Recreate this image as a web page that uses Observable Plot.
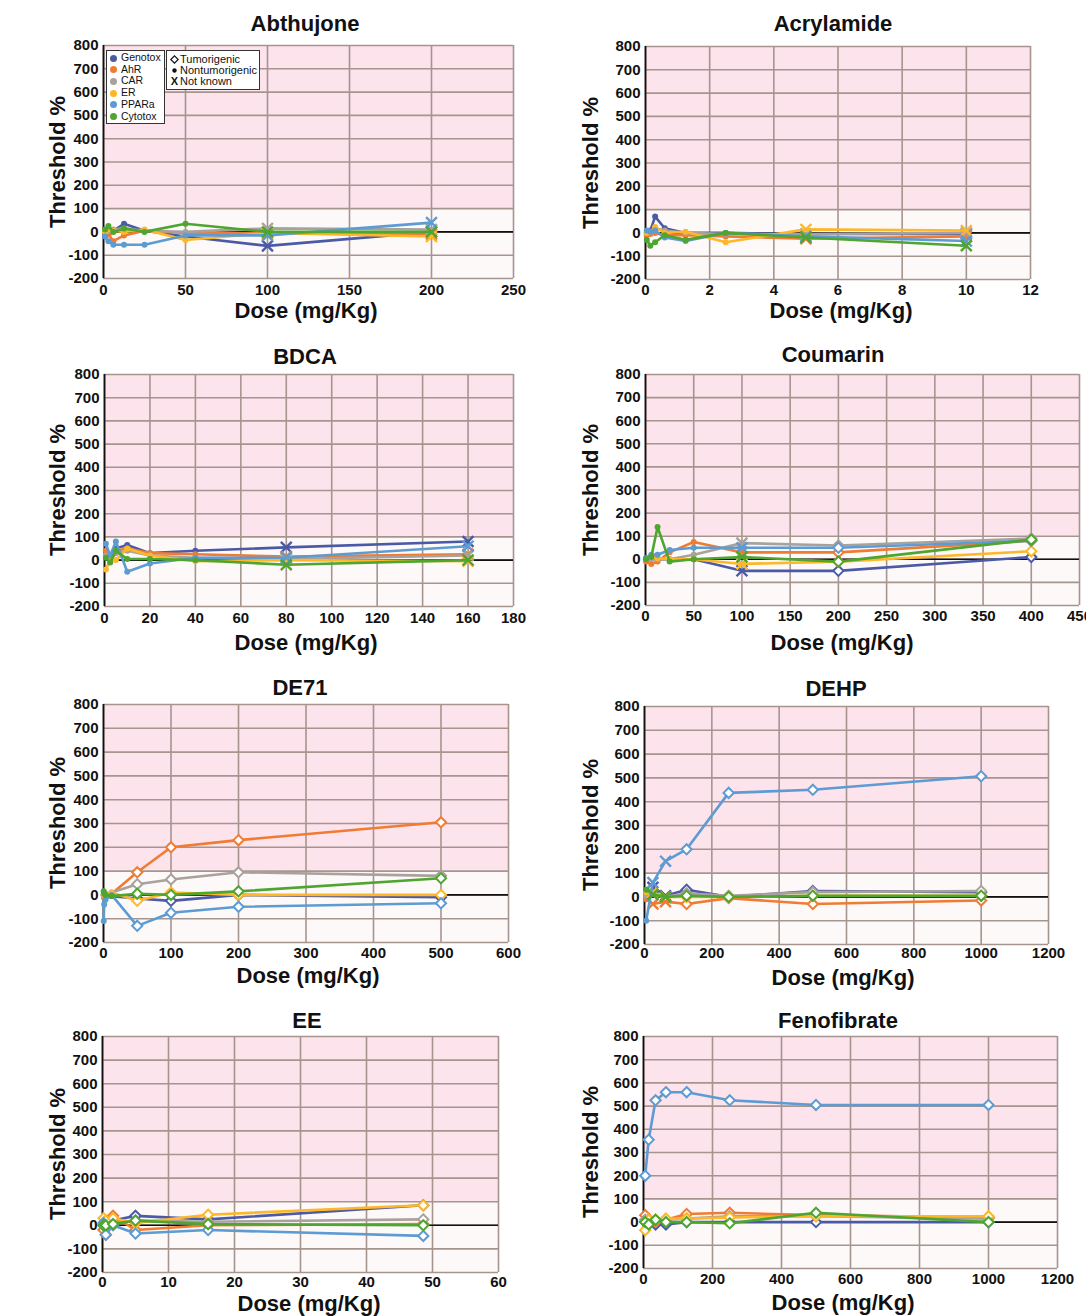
<!DOCTYPE html>
<html><head><meta charset="utf-8">
<script src="https://cdn.jsdelivr.net/npm/d3@7"></script>
<script src="https://cdn.jsdelivr.net/npm/@observablehq/plot@0.6"></script>
<style>
body{margin:0;background:#fff;}
#root{position:relative;width:1086px;height:1316px;overflow:hidden;font-family:"Liberation Sans",Arial,sans-serif;background:#fff;}
.panel{position:absolute;}
.title,.xlab{position:absolute;font-weight:bold;font-size:22px;line-height:22px;transform:translateX(-50%);white-space:nowrap;color:#111;}
.ylab{position:absolute;font-weight:bold;font-size:22px;line-height:22px;transform:translate(-50%,-50%) rotate(-90deg);white-space:nowrap;color:#111;}
.leg{position:absolute;background:#fff;border:1px solid #333;font-size:10.5px;line-height:11.7px;color:#111;padding:1px 3px 1px 3px;}
.leg div{white-space:nowrap;}
.sw{display:inline-block;width:7px;height:7px;border-radius:50%;margin-right:4px;vertical-align:-0.5px;}
</style></head>
<body><div id="root"></div>
<script>
// ---------- data ----------
const seriesNames = ["Genotox", "AhR", "CAR", "ER", "PPARa", "Cytotox"];
const classNames = ["Tumorigenic", "Nontumorigenic", "Not known"];
const thresholdBand = [100, 800];
const yTickValues = [-200, -100, 0, 100, 200, 300, 400, 500, 600, 700, 800];

const abthujone = {
  dose:    [1, 3, 6, 12.5, 25, 50, 100, 200],
  cls:     ["N","N","N","N","N","N","X","X"],
  Genotox: [-20, -10, 5, 35, 5, -20, -60, 0],
  AhR:     [0, -10, -40, -15, 5, -5, -5, -10],
  CAR:     [0, 5, 10, 15, 5, 0, 15, 10],
  ER:      [0, 10, 5, 0, 10, -35, -5, -20],
  PPARa:   [-20, -40, -55, -55, -55, -15, -15, 40],
  Cytotox: [10, 25, 0, 15, 0, 35, 0, 0]
};
const acrylamide = {
  dose:    [0.04, 0.15, 0.3, 0.6, 1.25, 2.5, 5, 10],
  cls:     ["N","N","N","N","N","N","X","X"],
  Genotox: [0, 10, 70, 20, 0, 0, -5, -5],
  AhR:     [-10, -5, 0, -10, -10, -15, -25, -15],
  CAR:     [0, 5, 20, 10, 0, -5, -5, 0],
  ER:      [0, 5, 25, 0, 5, -40, 15, 10],
  PPARa:   [10, 5, 10, -20, -35, 0, -15, -35],
  Cytotox: [-30, -55, -40, -10, -30, 0, -20, -55]
};
const bdca = {
  dose:    [0.6, 2.5, 5, 10, 20, 40, 80, 160],
  cls:     ["N","N","N","N","N","N","X","X"],
  Genotox: [40, 10, 50, 65, 30, 40, 55, 80],
  AhR:     [40, 10, 40, 50, 30, 25, 15, 25],
  CAR:     [20, 0, 30, 40, 20, 10, 5, 20],
  ER:      [-40, 0, 0, 50, 20, -5, 0, -5],
  PPARa:   [70, 20, 80, -50, -15, 10, 10, 60],
  Cytotox: [10, -10, 40, 5, 5, 0, -20, 0]
};
const coumarin = {
  dose:    [0.5, 6, 12.5, 25, 50, 100, 200, 400],
  cls:     ["N","N","N","N","N","X","T","T"],
  Genotox: [5, 5, 0, 0, 0, -50, -50, 10],
  AhR:     [-10, -20, -10, 30, 75, 30, 30, 80],
  CAR:     [0, 0, 0, 0, 20, 70, 60, 90],
  ER:      [0, 10, 5, 0, 0, -20, -10, 35],
  PPARa:   [5, 20, 20, 40, 50, 50, 50, 80],
  Cytotox: [0, 10, 140, -10, 0, 10, -10, 85]
};
const de71 = {
  dose:    [0.3, 1, 3, 12, 50, 100, 200, 500],
  cls:     ["N","N","N","N","T","T","T","T"],
  Genotox: [0, -10, -5, -5, -15, -25, 0, -10],
  AhR:     [0, -10, 0, 5, 95, 200, 230, 305],
  CAR:     [0, 0, 5, 10, 45, 65, 95, 80],
  ER:      [0, 0, 5, 10, -25, 10, 0, 0],
  PPARa:   [-110, -40, -20, 0, -130, -75, -50, -35],
  Cytotox: [15, 5, 0, -5, 5, 0, 15, 70]
};
const dehp = {
  dose:    [5, 25, 62.5, 125, 250, 500, 1000],
  cls:     ["N","X","X","T","T","T","T"],
  Genotox: [10, 40, 5, 30, 0, 25, 20],
  AhR:     [-10, -30, -20, -30, -5, -30, -15],
  CAR:     [5, 10, 0, 15, 5, 20, 25],
  ER:      [20, 20, 0, 0, 0, 5, 5],
  PPARa:   [-100, 60, 150, 200, 437, 450, 507],
  Cytotox: [30, 10, 0, 5, 0, 5, 5]
};
const ee = {
  dose:    [0.15, 0.5, 1.6, 5, 16, 48.6],
  cls:     ["T","T","T","T","T","T"],
  Genotox: [0, 10, 20, 40, 25, 85],
  AhR:     [-20, -40, 40, -20, 0, 5],
  CAR:     [0, 5, 10, 20, 15, 25],
  ER:      [30, 20, 30, 10, 45, 85],
  PPARa:   [10, -40, 0, -35, -20, -45],
  Cytotox: [0, 0, 5, 20, 5, 0]
};
const fenofibrate = {
  dose:    [5, 15, 35, 65, 125, 250, 500, 1000],
  cls:     ["T","T","T","T","T","T","T","T"],
  Genotox: [0, 0, -10, -10, 0, 0, 0, 0],
  AhR:     [30, 10, 0, 10, 35, 40, 30, 20],
  CAR:     [10, 10, 10, 10, 15, 25, 25, 15],
  ER:      [-35, 10, 10, 15, 15, 20, 25, 25],
  PPARa:   [200, 355, 525, 560, 560, 525, 505, 505],
  Cytotox: [0, -10, 10, 0, 0, -5, 40, 0]
};

// ---------- styles & layout ----------
const seriesColors = {Genotox:"#4b5aa6", AhR:"#f07b32", CAR:"#a9a19d", ER:"#fdb728", PPARa:"#5d9bd3", Cytotox:"#4ea52f"};
const pink = "#fde3eb", lowBg = "#fdf9f9", gridColor = "#a6958f";

const panels = [
  {title:"Abthujone",  data:abthujone,  x0:103, x1:513, y0:45,  y1:278, xmax:250,  xstep:50,  tx:305, ty:24,  lx:306, ly:311, tp:6},
  {title:"Acrylamide", data:acrylamide, x0:645, x1:1030,y0:46,  y1:279, xmax:12,   xstep:2,   tx:833, ty:24,  lx:841, ly:311, tp:5},
  {title:"BDCA",       data:bdca,       x0:104, x1:513, y0:374, y1:606, xmax:180,  xstep:20,  tx:305, ty:357, lx:306, ly:643, tp:6},
  {title:"Coumarin",   data:coumarin,   x0:645, x1:1079,y0:374, y1:605, xmax:450,  xstep:50,  tx:833, ty:355, lx:842, ly:643, tp:5},
  {title:"DE71",       data:de71,       x0:103, x1:508, y0:704, y1:942, xmax:600,  xstep:100, tx:300, ty:688, lx:308, ly:976, tp:5},
  {title:"DEHP",       data:dehp,       x0:644, x1:1048,y0:706, y1:944, xmax:1200, xstep:200, tx:836, ty:689, lx:843, ly:978, tp:3},
  {title:"EE",         data:ee,         x0:102, x1:498, y0:1036,y1:1272,xmax:60,   xstep:10,  tx:307, ty:1021,lx:309, ly:1304, tp:4},
  {title:"Fenofibrate",data:fenofibrate,x0:643, x1:1057,y0:1036,y1:1268,xmax:1200, xstep:200, tx:838, ty:1021,lx:843, ly:1303, tp:5}
];

const root = document.getElementById("root");
function addText(cls, txt, x, y){
  const d = document.createElement("div");
  d.className = cls; d.textContent = txt;
  d.style.left = x + "px"; d.style.top = (y - 11) + "px";
  if (cls === "ylab") d.style.top = y + "px";
  root.appendChild(d);
}

panels.forEach(p => {
  const mL = 48, mR = 14, mT = 4, mB = 30;
  const W = p.x1 - p.x0 + mL + mR, H = p.y1 - p.y0 + mT + mB;
  const rows = [];
  seriesNames.forEach(s => p.data[s].forEach((v, j) => {
    if (v != null) rows.push({series: s, dose: p.data.dose[j], value: v, cls: p.data.cls[j]});
  }));
  const xt = d3.range(0, p.xmax + 1e-9, p.xstep);
  const seriesMarks = seriesNames.flatMap(s => {
    const pts = rows.filter(r => r.series === s);
    const c = seriesColors[s];
    return [
      Plot.line(pts, {x:"dose", y:"value", stroke:c, strokeWidth:2.6, strokeLinejoin:"round"}),
      Plot.dot(pts.filter(d => d.cls === "N"), {x:"dose", y:"value", r:3, fill:c}),
      Plot.dot(pts.filter(d => d.cls === "X"), {x:"dose", y:"value", symbol:"times", r:5, stroke:c, strokeWidth:2.4}),
      Plot.dot(pts.filter(d => d.cls === "T"), {x:"dose", y:"value", symbol:"diamond2", r:4.6, fill:"white", stroke:c, strokeWidth:2})
    ];
  });
  const chart = Plot.plot({
    width: W, height: H, marginLeft: mL, marginRight: mR, marginTop: mT, marginBottom: mB,
    x: {domain: [0, p.xmax]},
    y: {domain: [-200, 800]},
    style: {fontFamily: "'Liberation Sans', Arial, sans-serif", background: "transparent", overflow: "visible"},
    marks: [
      Plot.rect([{a: 0, b: p.xmax, lo: thresholdBand[0], hi: thresholdBand[1]}], {x1:"a", x2:"b", y1:"lo", y2:"hi", fill: pink}),
      Plot.rect([{a: 0, b: p.xmax, lo: -200, hi: thresholdBand[0]}], {x1:"a", x2:"b", y1:"lo", y2:"hi", fill: lowBg}),
      Plot.ruleX(xt, {stroke: gridColor, strokeWidth: 1.6}),
      Plot.ruleY(yTickValues, {stroke: gridColor, strokeWidth: 1.6}),
      Plot.ruleY([0], {stroke: "#111", strokeWidth: 1.6}),
      Plot.ruleX([0], {stroke: "#111", strokeWidth: 1.8}),
      Plot.axisX(xt, {tickSize: 0, tickPadding: p.tp, fontSize: 15, fontWeight: "bold", fill: "#111", label: null, tickFormat: d => String(d)}),
      Plot.axisY(yTickValues, {tickSize: 0, tickPadding: 5, fontSize: 15, fontWeight: "bold", fill: "#111", label: null, tickFormat: d => String(d)}),
      ...seriesMarks
    ]
  });
  chart.classList.add("panel");
  chart.style.left = (p.x0 - mL) + "px";
  chart.style.top = (p.y0 - mT) + "px";
  root.appendChild(chart);

  addText("title", p.title, p.tx, p.ty);
  addText("xlab", "Dose (mg/Kg)", p.lx, p.ly);
  addText("ylab", "Threshold %", p.x0 < 300 ? 58 : 591, (p.y0 + p.y1) / 2);
});

// ---------- legends (in Abthujone panel) ----------
const leg1 = document.createElement("div");
leg1.className = "leg";
leg1.style.left = "106px"; leg1.style.top = "50px"; leg1.style.width = "51px";
seriesNames.forEach(s => {
  const r = document.createElement("div");
  const sw = document.createElement("span");
  sw.className = "sw"; sw.style.background = seriesColors[s];
  r.appendChild(sw); r.appendChild(document.createTextNode(s));
  leg1.appendChild(r);
});
root.appendChild(leg1);

const leg2 = document.createElement("div");
leg2.className = "leg";
leg2.style.left = "166px"; leg2.style.top = "50px"; leg2.style.width = "86px";
leg2.style.fontSize = "11px"; leg2.style.lineHeight = "11px"; leg2.style.paddingTop = "3px"; leg2.style.paddingBottom = "2px";
const symSvg = [
  '<svg width="9" height="9" style="vertical-align:-1px;margin-right:1px"><path d="M4.5 0.8 L8.2 4.5 L4.5 8.2 L0.8 4.5 Z" fill="#fff" stroke="#111" stroke-width="1.2"/></svg>',
  '<svg width="9" height="9" style="vertical-align:-1px;margin-right:1px"><circle cx="4.5" cy="4.5" r="2.2" fill="#111"/></svg>',
  '<span style="display:inline-block;width:9px;margin-right:1px;font-weight:bold;text-align:center">X</span>'
];
classNames.forEach((c, i) => {
  const r = document.createElement("div");
  r.innerHTML = symSvg[i];
  r.appendChild(document.createTextNode(c));
  leg2.appendChild(r);
});
root.appendChild(leg2);
</script>
</body></html>
